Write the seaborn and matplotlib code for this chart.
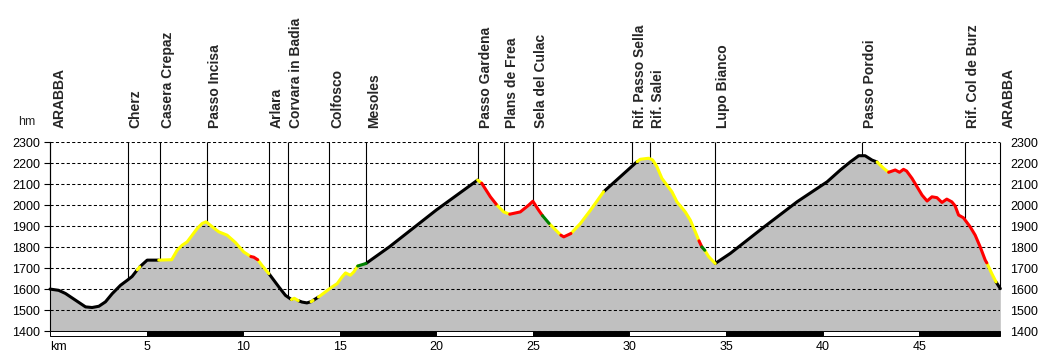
import numpy as np
import pandas as pd
import matplotlib
matplotlib.use('Agg')
import matplotlib.pyplot as plt
from matplotlib.patches import Rectangle
import seaborn as sns

# elevation profile (km, m)
km = [0.0, 0.45, 0.8, 1.32, 1.84, 2.18, 2.53, 2.87, 3.22, 3.65, 4.0, 4.25, 4.52, 4.65,
      5.03, 5.63, 6.3, 6.58, 6.84, 7.1, 7.36, 7.62, 7.88, 8.08, 8.4, 8.74, 9.17, 9.6,
      10.03, 10.4, 10.55, 10.75, 11.0, 11.33, 11.85, 12.19, 12.5, 12.65, 12.85, 13.05,
      13.3, 13.52, 13.62, 13.9, 14.25, 14.6, 14.87, 15.12, 15.3, 15.55, 15.73, 15.93,
      16.36, 17.58, 20.0, 22.14, 22.35, 22.8, 23.1, 23.49, 23.8, 24.35, 24.78, 25.0,
      25.3, 25.5, 25.84, 26.45, 26.6, 26.97, 27.46, 27.98, 28.66, 29.53, 30.3, 30.4,
      30.56, 30.99, 31.2, 31.42, 31.68, 31.94, 32.2, 32.46, 32.89, 33.15, 33.41, 33.6,
      33.75, 33.9, 34.1, 34.44, 35.22, 36.98, 38.69, 40.24, 40.92, 41.44, 41.87, 42.2,
      42.56, 42.82, 43.16, 43.42, 43.76, 43.98, 44.19, 44.35, 44.63, 44.89, 45.15,
      45.41, 45.66, 45.92, 46.18, 46.43, 46.69, 46.86, 47.04, 47.29, 47.64, 47.9,
      48.16, 48.42, 48.5, 48.76, 48.98, 49.2]
elev = [1600, 1594, 1579, 1547, 1515, 1512, 1518, 1539, 1578, 1618, 1642, 1660, 1692, 1706,
        1738, 1738, 1740, 1785, 1809, 1825, 1857, 1889, 1913, 1921, 1897, 1873, 1857, 1822,
        1777, 1755, 1752, 1740, 1710, 1674, 1610, 1570, 1550, 1556, 1545, 1538,
        1534, 1540, 1546, 1562, 1586, 1610, 1626, 1658, 1677, 1666, 1682, 1710,
        1722, 1802, 1977, 2120, 2105, 2040, 2005, 1968, 1957, 1968, 2000, 2019,
        1976, 1950, 1913, 1857, 1849, 1865, 1913, 1976, 2064, 2136, 2200, 2208,
        2219, 2224, 2216, 2184, 2128, 2096, 2064, 2016, 1968, 1929, 1873, 1830,
        1801, 1785, 1755, 1722, 1770, 1897, 2017, 2112, 2168, 2207, 2236, 2236,
        2215, 2206, 2176, 2157, 2168, 2157, 2171, 2163, 2128, 2088, 2048,
        2020, 2040, 2036, 2013, 2029, 2016, 1997, 1953, 1940, 1897, 1857,
        1801, 1738, 1725, 1674, 1634, 1602]

# difficulty class of the track, starting at each km
grade_from = [0.0, 4.52, 4.65, 5.63, 10.4, 10.75, 11.33, 12.5, 12.85, 13.52, 13.62, 13.9,
              15.93, 16.36, 22.14, 22.35, 23.1, 23.8, 25.5, 25.84, 26.45, 26.97, 28.66,
              30.4, 33.6, 33.75, 33.9, 34.44, 42.82, 43.42, 48.5, 48.98]
grade_cls = ['road', 'easy', 'road', 'easy', 'hard', 'easy', 'road', 'easy', 'road', 'easy',
             'road', 'easy', 'trail', 'road', 'easy', 'hard', 'easy', 'hard', 'trail', 'easy',
             'hard', 'easy', 'road', 'easy', 'hard', 'trail', 'easy', 'road', 'easy', 'hard',
             'easy', 'road']

# waypoints
wp_names = ['ARABBA', 'Cherz', 'Casera Crepaz', 'Passo Incisa', 'Arlara', 'Corvara in Badia',
            'Colfosco', 'Mesoles', 'Passo Gardena', 'Plans de Frea', 'Sela del Culac',
            'Rif. Passo Sella', 'Rif. Salei', 'Lupo Bianco', 'Passo Pordoi',
            'Rif. Col de Burz', 'ARABBA']
wp_km = [0.0, 4.03, 5.68, 8.12, 11.33, 12.31, 14.45, 16.38, 22.14, 23.49, 24.99,
         30.13, 31.05, 34.43, 42.04, 47.35, 49.2]

palette = {'road': 'black', 'easy': '#ffff00', 'hard': '#ff0000', 'trail': '#008000'}

# split the profile into runs of the same class
n = len(km)
cls = np.array(grade_cls)[np.searchsorted(grade_from, km, side='right') - 1]
starts = [0] + [i for i in range(1, n - 1) if cls[i] != cls[i - 1]]
ends = starts[1:] + [n - 1]
rows = []
for r, (s, e) in enumerate(zip(starts, ends)):
    for i in range(s, e + 1):
        rows.append({'km': km[i], 'elev': elev[i], 'grade': cls[s], 'run': r})
df = pd.DataFrame(rows)

sns.set_style('white')
plt.rcParams['font.family'] = ['Liberation Sans', 'DejaVu Sans']

fig = plt.figure(figsize=(10.5, 3.55), dpi=100)
ax = fig.add_axes([50 / 1050, 24 / 355, 950.3 / 1050, 188.7 / 355])

ax.fill_between(km, elev, 1400, color='#c0c0c0', lw=0, zorder=1)
wp_base = np.interp(wp_km, km, elev)
ax.vlines(wp_km, wp_base, 2300, color='black', lw=0.8, zorder=1.6, clip_on=False)

sns.lineplot(data=df, x='km', y='elev', hue='grade', units='run', estimator=None,
             sort=False, palette=palette, linewidth=2.2, legend=False, ax=ax, zorder=3)
for line in ax.get_lines():
    line.set_solid_capstyle('round')
    line.set_solid_joinstyle('round')
    line.set_clip_on(False)

ax.set_xlim(0, 49.2)
ax.set_ylim(1400, 2300)
ax.set_xlabel('')
ax.set_ylabel('')

yt = list(range(1400, 2301, 100))
ax.set_yticks(yt)
ax.tick_params(axis='y', left=True, length=4.5, width=0.8, direction='out', pad=2.7,
               labelsize=9, colors='black')
sec = ax.secondary_yaxis('right')
sec.set_yticks(yt)
sec.tick_params(length=0, pad=7, labelsize=9, colors='black')
sec.spines['right'].set_visible(False)

xt = list(range(0, 46, 5))
ax.set_xticks(xt)
ax.set_xticklabels(['km'] + [str(v) for v in xt[1:]])
ax.get_xticklabels()[0].set_horizontalalignment('left')
ax.tick_params(axis='x', length=0, pad=7, labelsize=9, colors='black')

ax.set_axisbelow('line')
ax.grid(axis='y', color='black', linestyle=(0, (3, 2.2)), linewidth=0.75)
ax.grid(axis='x', visible=False)

for side in ['top', 'right', 'bottom']:
    ax.spines[side].set_visible(False)
ax.spines['left'].set_color('black')
ax.spines['left'].set_linewidth(0.8)

# km scale bar under the profile
for k, x0 in enumerate(range(0, 50, 5)):
    w = min(5, 49.2 - x0)
    ax.add_patch(Rectangle((x0, -0.024), w, 0.024, transform=ax.get_xaxis_transform(),
                           facecolor='black' if k % 2 else 'white', edgecolor='black',
                           lw=0.7, clip_on=False, zorder=4))

ax.text(-0.024, 1.074, 'hm', transform=ax.transAxes, ha='center', va='bottom', fontsize=9)
for i, (name, x) in enumerate(zip(wp_names, wp_km)):
    ax.annotate(name, xy=(x, 1.074), xycoords=ax.get_xaxis_transform(),
                xytext=(2.2 if i == 0 else 0.7, 0), textcoords='offset points',
                rotation=90, ha='left', va='bottom', fontsize=10, fontweight='bold')

fig.savefig('out.png', dpi=100)
